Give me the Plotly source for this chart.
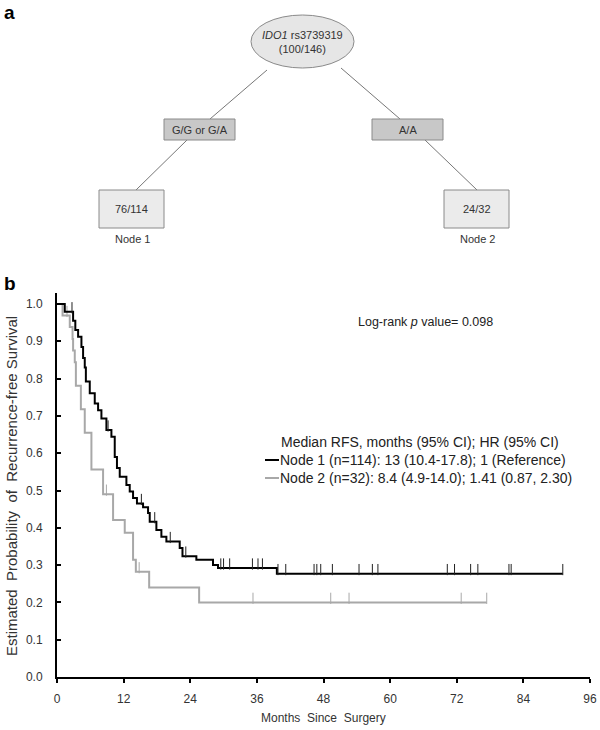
import numpy as np
import plotly.graph_objects as go

# ---------------- data ----------------
node1_times = [0, 1.4, 2.9, 3.3, 3.8, 4.4, 4.7, 5.0, 5.2, 5.9, 6.8, 7.4, 8.0, 8.9, 9.8,
               10.4, 10.8, 11.3, 12.5, 13.1, 13.7, 14.4, 15.5, 16.4, 16.7, 17.9, 18.8,
               19.7, 22.1, 22.6, 25.1, 28.1, 29.0, 39.6]
node1_surv = [1.0, 0.979, 0.955, 0.93, 0.912, 0.885, 0.855, 0.83, 0.792, 0.761, 0.733,
              0.715, 0.693, 0.662, 0.644, 0.59, 0.56, 0.537, 0.515, 0.497, 0.48, 0.465,
              0.455, 0.44, 0.416, 0.394, 0.376, 0.363, 0.346, 0.324, 0.314, 0.30, 0.292,
              0.277]
node1_end = 91.1
node1_censor = [2.7, 9.2, 15.2, 17.6, 20.4, 23.2, 29.5, 30.0, 31.1, 35.2, 36.2, 37.0,
                39.8, 41.2, 46.3, 46.8, 47.5, 49.6, 54.4, 56.8, 57.8, 70.3, 71.6, 74.5,
                75.8, 81.4, 81.8, 91.1]

node2_times = [0, 1.0, 2.3, 2.8, 2.9, 3.2, 3.4, 4.3, 5.0, 6.2, 8.3, 10.1, 12.2, 13.7,
               14.2, 16.6, 25.6]
node2_surv = [1.0, 0.969, 0.938, 0.906, 0.875, 0.844, 0.781, 0.718, 0.655, 0.556, 0.49,
              0.421, 0.387, 0.314, 0.282, 0.24, 0.20]
node2_end = 77.4
node2_censor = [1.8, 8.9, 14.8, 35.3, 49.3, 52.6, 72.8, 77.4]

x_ticks = [0, 12, 24, 36, 48, 60, 72, 84, 96]
y_ticks = [0.0, 0.1, 0.2, 0.3, 0.4, 0.5, 0.6, 0.7, 0.8, 0.9, 1.0]

legend_title = "Median RFS, months (95% CI); HR (95% CI)"
legend_node1 = "Node 1 (n=114): 13 (10.4-17.8); 1 (Reference)"
legend_node2 = "Node 2 (n=32): 8.4 (4.9-14.0); 1.41 (0.87, 2.30)"

W, H = 600, 730
BLACK = "#000000"
GRAY = "#a8a8a8"


def px(x):
    return x / W


def py(y):
    return 1 - y / H


def surv_at(times, surv, t):
    times = np.asarray(times)
    surv = np.asarray(surv)
    idx = np.searchsorted(times, t, side="right") - 1
    return surv[idx]


fig = go.Figure()

for times, surv, end, cens, color, cens_color in [
    (node2_times, node2_surv, node2_end, node2_censor, GRAY, GRAY),
    (node1_times, node1_surv, node1_end, node1_censor, BLACK, "#222222"),
]:
    xs = list(times) + [end]
    ys = list(surv) + [surv[-1]]
    fig.add_trace(go.Scatter(x=xs, y=ys, mode="lines", line=dict(color=color, width=2, shape="hv"),
                             showlegend=False, hoverinfo="skip"))
    cs = np.array([surv_at(times, surv, t) for t in cens])
    fig.add_trace(go.Scatter(x=cens, y=cs + 0.011, mode="markers",
                             marker=dict(symbol="line-ns", size=8, line=dict(color=cens_color, width=1)),
                             showlegend=False, hoverinfo="skip"))

FONT = "Liberation Sans, Arial, sans-serif"

fig.update_layout(
    width=W, height=H,
    margin=dict(l=0, r=0, t=0, b=0, autoexpand=False),
    paper_bgcolor="white", plot_bgcolor="white",
    font=dict(family=FONT, size=12, color="#333333"),
    showlegend=False,
    xaxis=dict(domain=[57 / W, 590 / W], range=[0, 96], tickvals=x_ticks,
               showline=True, linecolor="black", linewidth=2, ticks="outside", ticklen=4,
               tickcolor="black", tickwidth=2, showgrid=False, zeroline=False, automargin=False,
               tickfont=dict(size=12, color="#333333"), ticklabelstandoff=6, fixedrange=True),
    yaxis=dict(domain=[(H - 677) / H, (H - 292.8) / H], range=[0, 1.03], tickvals=y_ticks,
               ticktext=[f"{v:.1f}" for v in y_ticks],
               showline=True, linecolor="black", linewidth=2, ticks="inside", ticklen=4,
               tickcolor="black", tickwidth=2, showgrid=False, zeroline=False, automargin=False,
               tickfont=dict(size=12, color="#333333"), ticklabelstandoff=10, fixedrange=True),
)

shapes = []
annotations = []

LINE_C = "#777777"
EDGE_C = "#8a8a8a"


def line(x0, y0, x1, y1):
    shapes.append(dict(type="line", xref="paper", yref="paper", x0=px(x0), y0=py(y0),
                       x1=px(x1), y1=py(y1), line=dict(color=LINE_C, width=1)))


def box(x0, y0, x1, y1, fill):
    shapes.append(dict(type="rect", xref="paper", yref="paper", x0=px(x0), y0=py(y1),
                       x1=px(x1), y1=py(y0), fillcolor=fill, line=dict(color=EDGE_C, width=1)))


def text(x, y, s, size=11, color="#333333", xanchor="center"):
    annotations.append(dict(xref="paper", yref="paper", x=px(x), y=py(y), text=s,
                            showarrow=False, xanchor=xanchor, yanchor="middle",
                            font=dict(size=size, color=color, family=FONT)))


# tree (panel a)
shapes.append(dict(type="circle", xref="paper", yref="paper", x0=px(251), y0=py(68),
                   x1=px(354), y1=py(15), fillcolor="#e6e6e6", line=dict(color=EDGE_C, width=1)))
line(267, 70, 210, 119)
line(341, 68, 400, 119)
line(187, 140, 136, 190)
line(425, 140, 477, 190)
box(164, 119, 235, 140, "#c8c8c8")
box(372, 119, 443, 140, "#c8c8c8")
box(99, 190, 164, 228, "#ebebeb")
box(444, 190, 509, 228, "#ebebeb")

text(302.5, 42, "<i>IDO1</i> rs3739319<br>(100/146)", size=11)
text(199.5, 130, "G/G or G/A", size=11)
text(407.5, 130, "A/A", size=11)
text(131.5, 209, "76/114", size=11)
text(476.5, 209, "24/32", size=11)
text(132, 239, "Node 1", size=11)
text(477, 239, "Node 2", size=11)

annotations.append(dict(xref="paper", yref="paper", x=px(2), y=py(12), text="<b>a</b>",
                        showarrow=False, xanchor="left", yanchor="middle",
                        font=dict(size=19, color="black", family=FONT)))
annotations.append(dict(xref="paper", yref="paper", x=px(2), y=py(284), text="<b>b</b>",
                        showarrow=False, xanchor="left", yanchor="middle",
                        font=dict(size=19, color="black", family=FONT)))

# panel b texts
text(356, 322, "Log-rank <i>p</i> value= 0.098", size=12.5, xanchor="left", color="#222222")
text(279, 442, legend_title, size=14, xanchor="left", color="#222222")
text(278, 460, legend_node1, size=14, xanchor="left", color="#222222")
text(278, 478, legend_node2, size=14, xanchor="left", color="#222222")
shapes.append(dict(type="line", xref="paper", yref="paper", x0=px(265), x1=px(279),
                   y0=py(460), y1=py(460), line=dict(color=BLACK, width=2)))
shapes.append(dict(type="line", xref="paper", yref="paper", x0=px(265), x1=px(279),
                   y0=py(478), y1=py(478), line=dict(color=GRAY, width=2)))

# axis titles
text(323.5, 718, "Months  Since  Surgery", size=12, color="#333333")
annotations.append(dict(xref="paper", yref="paper", x=px(11), y=py(486),
                        text="Estimated  Probability  of  Recurrence-free Survival",
                        showarrow=False, textangle=-90, xanchor="center", yanchor="middle",
                        font=dict(size=15, color="#333333", family=FONT)))

fig.update_layout(shapes=shapes, annotations=annotations)
fig.write_html("out.html", config={"displayModeBar": False},
               post_script="document.body.style.margin='0px';")
